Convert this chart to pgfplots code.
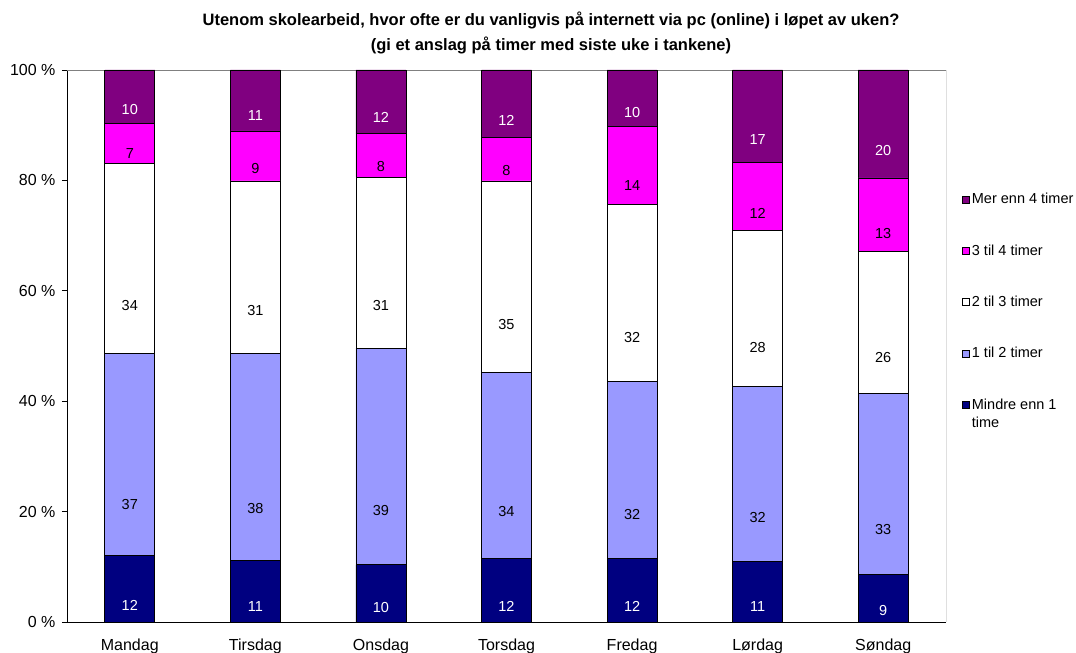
\documentclass[border=0pt]{standalone}
\usepackage{fontspec}
\setmainfont{Liberation Sans}
\usepackage{pgfplots}
\usepackage{pgfplotstable}
\pgfplotsset{compat=1.18}

\definecolor{mindre}{HTML}{000080}
\definecolor{entil}{HTML}{9999FF}
\definecolor{tretil}{HTML}{FF00FF}
\definecolor{mer}{HTML}{800080}

% share of pupils per day, segments bottom to top
\pgfplotstableread{
x  a      b      c      d      e
0  12.05  36.65  34.40  7.25   9.65
1  11.10  37.60  31.20  9.05   11.05
2  10.35  39.25  31.00  7.85   11.55
3  11.55  33.60  34.75  7.80   12.30
4  11.55  32.00  32.05  14.10  10.30
5  11.00  31.60  28.35  12.25  16.80
6  8.55   32.90  25.60  13.40  19.55
}\days

\pgfplotsset{
  seg/.style n args={3}{
    fill=#1, draw=black, line width=0.8pt,
    visualization depends on={\thisrow{#3} \as \segh},
    every node near coord/.append style={
      text=#2, anchor=center,
      shift={(axis direction cs:0,-\segh/4)}},
  },
  % marker of the two-line entry sits on its first line
  upleg/.style={legend image code/.code={
    \draw[##1, draw=black, line width=0.7pt] (0pt,5.5pt) rectangle (7pt,12.5pt);}},
}

\begin{document}
\begin{tikzpicture}
\useasboundingbox (-67pt,-31pt) rectangle (1009pt,622pt);
\begin{axis}[
  scale only axis,
  width=879pt, height=552pt,
  ybar stacked, bar width=50pt,
  xmin=-0.5, xmax=6.5, ymin=0, ymax=100,
  axis x line*=bottom, axis y line*=left,
  axis line style={-, black, line width=0.8pt},
  xtick={0,...,6},
  xticklabels={Mandag,Tirsdag,Onsdag,Torsdag,Fredag,Lørdag,Søndag},
  xticklabel style={yshift=-8pt},
  major x tick style={draw=none},
  extra x ticks={-0.5,0.5,1.5,2.5,3.5,4.5,5.5,6.5},
  extra x tick labels={},
  extra x tick style={major tick length=5pt, tick style={draw=black, line width=0.8pt}},
  ytick={0,20,40,60,80,100},
  yticklabel={\pgfmathprintnumber{\tick} \%},
  yticklabel style={xshift=-3pt},
  tick align=outside, major tick length=5pt,
  y tick style={black, line width=0.8pt},
  tick label style={font=\fontsize{16}{19}\selectfont},
  /pgf/number format/assume math mode=true,
  point meta=explicit,
  nodes near coords={\pgfmathprintnumber[fixed,precision=0]{\pgfplotspointmeta}},
  nodes near coords align={center},
  every node near coord/.append style={font=\fontsize{14.5}{17}\selectfont},
  reverse legend,
  legend style={at={(axis description cs:1,0.784)}, anchor=north west,
    xshift=13pt, draw=none, fill=none, row sep=35.3pt,
    font=\fontsize{14.5}{18}\selectfont,
    cells={anchor=west, align=left}},
  legend image code/.code={
    \draw[#1, draw=black, line width=0.7pt] (0pt,-3.5pt) rectangle (7pt,3.5pt);},
]
\addplot[seg={mindre}{white}{a}, upleg] table[x=x, y=a, meta=a] {\days};
\addlegendentry{Mindre enn 1\\time}
\addplot[seg={entil}{black}{b}] table[x=x, y=b, meta=b] {\days};
\addlegendentry{1 til 2 timer}
\addplot[seg={white}{black}{c}] table[x=x, y=c, meta=c] {\days};
\addlegendentry{2 til 3 timer}
\addplot[seg={tretil}{black}{d}] table[x=x, y=d, meta=d] {\days};
\addlegendentry{3 til 4 timer}
\addplot[seg={mer}{white}{e}] table[x=x, y=e, meta=e] {\days};
\addlegendentry{Mer enn 4 timer}
\draw[gray, line width=0.8pt] (rel axis cs:0,1) -- (rel axis cs:1,1);
\draw[black, line width=0.8pt] (rel axis cs:1,1) -- (rel axis cs:1,0);
\end{axis}
\node[font=\bfseries\fontsize{16.5}{25}\selectfont, align=center]
  at (484pt,589pt) {Utenom skolearbeid, hvor ofte er du vanligvis på internett via pc (online) i løpet av uken?\\(gi et anslag på timer med siste uke i tankene)};
\end{tikzpicture}
\end{document}
